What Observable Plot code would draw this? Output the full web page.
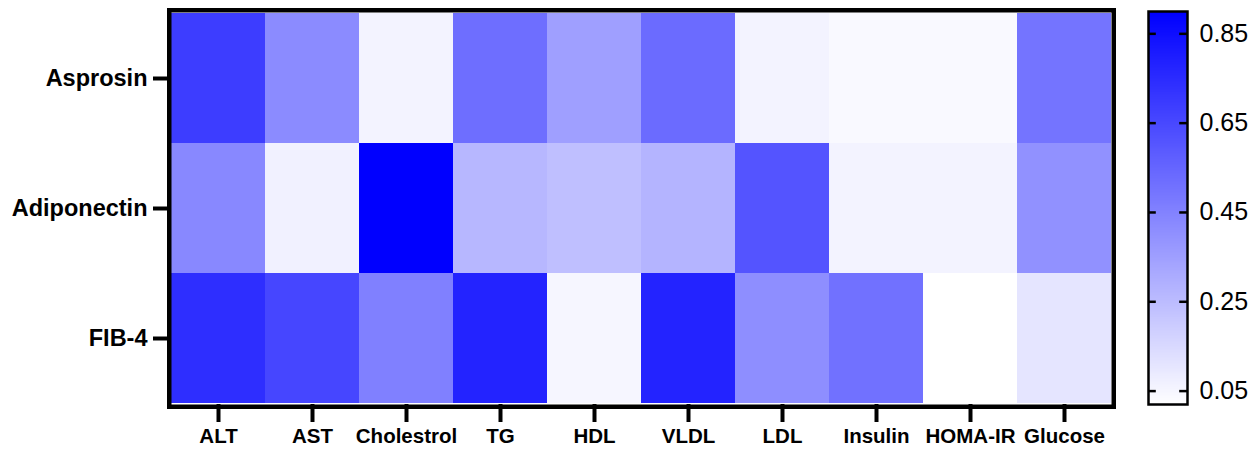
<!DOCTYPE html>
<html>
<head>
<meta charset="utf-8">
<script src="https://cdn.jsdelivr.net/npm/d3@7"></script>
<script src="https://cdn.jsdelivr.net/npm/@observablehq/plot@0.6"></script>
<style>
  html, body { margin: 0; padding: 0; background: #fff; }
  #wrap { position: relative; width: 1260px; height: 449px; font-family: "Liberation Sans", Arial, sans-serif; }
  #wrap > div, #wrap > svg { position: absolute; top: 0; }
</style>
</head>
<body>
<div id="wrap"></div>
<script>
// Correlation strength between hormones / FIB-4 and metabolic markers
const hormones = ["Asprosin", "Adiponectin", "FIB-4"];
const markers = ["ALT", "AST", "Cholestrol", "TG", "HDL", "VLDL", "LDL", "Insulin", "HOMA-IR", "Glucose"];
const asprosin    = [0.69, 0.42, 0.06, 0.52, 0.35, 0.53, 0.06, 0.04, 0.04, 0.50];
const adiponectin = [0.43, 0.07, 0.90, 0.27, 0.24, 0.28, 0.61, 0.06, 0.06, 0.40];
const fib4        = [0.74, 0.66, 0.46, 0.78, 0.05, 0.78, 0.41, 0.51, 0.02, 0.11];
const legendTicks = [0.05, 0.25, 0.45, 0.65, 0.85];
const colorDomain = [0.02, 0.90];

const rows = [asprosin, adiponectin, fib4];
const cells = hormones.flatMap((h, i) => markers.map((m, j) => ({hormone: h, marker: m, value: rows[i][j]})));

const color = {type: "linear", domain: colorDomain, range: ["#ffffff", "#0000ff"], interpolate: "rgb"};
const font = {fontFamily: "'Liberation Sans', Arial, sans-serif", background: "transparent", overflow: "visible"};

const heat = Plot.plot({
  width: 1260,
  height: 449,
  marginLeft: 171,
  marginRight: 149,
  marginTop: 12,
  marginBottom: 45,
  style: font,
  x: {domain: markers, padding: 0},
  y: {domain: hormones, padding: 0},
  color,
  marks: [
    Plot.cell(cells, {x: "marker", y: "hormone", fill: "value", inset: 0}),
    Plot.axisX({tickSize: 18, tickPadding: 6, strokeWidth: 4, fontSize: 20.5, fontWeight: "bold", fill: "#000", label: null}),
    Plot.axisY({tickSize: 18, tickPadding: 6, strokeWidth: 4, fontSize: 23.5, fontWeight: "bold", fill: "#000", label: null}),
    Plot.frame({stroke: "#000", strokeWidth: 4.5, inset: -2.25})
  ]
});

// Vertical colour bar sharing the same colour scale
const legend = Plot.plot({
  width: 130,
  height: 449,
  marginLeft: 18,
  marginRight: 73,
  marginTop: 11,
  marginBottom: 45,
  style: font,
  x: {domain: [0, 1], axis: null},
  y: {domain: colorDomain, axis: null},
  color,
  marks: [
    Plot.raster({x1: 0, x2: 1, y1: colorDomain[0], y2: colorDomain[1], width: 1, height: 400, fill: (x, y) => y}),
    Plot.ruleY(legendTicks, {y: d => d, x1: 0, x2: 0.2, stroke: "#000", strokeWidth: 2.5}),
    Plot.ruleY(legendTicks, {y: d => d, x1: 0.8, x2: 1, stroke: "#000", strokeWidth: 2.5}),
    Plot.axisY({anchor: "right", ticks: legendTicks, tickSize: 0, tickPadding: 12, fontSize: 25, fill: "#000", tickFormat: d3.format(".2f"), label: null}),
    Plot.frame({stroke: "#000", strokeWidth: 2.5})
  ]
});

const wrap = document.getElementById("wrap");
heat.style.left = "0px";
legend.style.left = "1130px";
wrap.append(heat, legend);
</script>
</body>
</html>
